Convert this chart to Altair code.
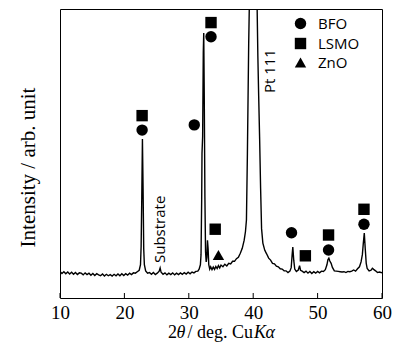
import altair as alt
import pandas as pd

# XRD pattern (2theta in degrees, intensity in arbitrary units, 0-100 = plot height)
two_theta = [10.0, 10.3, 10.6, 10.9, 11.2, 11.5, 11.8, 12.1, 12.4, 12.7, 13.0, 13.3, 13.6, 13.9, 14.2,
             14.5, 14.8, 15.1, 15.4, 15.7, 16.0, 16.3, 16.6, 16.9, 17.2, 17.5, 17.8, 18.1, 18.4, 18.7,
             19.0, 19.3, 19.6, 19.9, 20.2, 20.5, 20.8, 21.1, 21.4, 21.7, 22.0, 22.3, 22.5, 22.6, 22.7,
             22.8, 22.9, 23.0, 23.1, 23.3, 23.6, 23.9, 24.2, 24.5, 24.8, 25.1, 25.4, 25.55, 25.7, 26.0,
             26.3, 26.6, 26.9, 27.2, 27.5, 27.8, 28.1, 28.4, 28.7, 29.0, 29.3, 29.6, 29.9, 30.2, 30.5,
             30.8, 31.1, 31.4, 31.6, 31.8, 31.9, 32.0, 32.05, 32.15, 32.25, 32.32, 32.4, 32.5, 32.6, 32.7,
             32.8, 32.9, 33.0, 33.1, 33.25, 33.4, 33.6, 33.8, 34.0, 34.2, 34.4, 34.6, 34.8, 35.0, 35.3,
             35.6, 35.9, 36.2, 36.5, 36.8, 37.1, 37.4, 37.7, 38.0, 38.3, 38.6, 38.8, 38.95, 39.1, 39.3,
             39.42, 39.6, 40.0, 40.3, 40.6, 40.72, 40.85, 41.0, 41.15, 41.3, 41.5, 41.8, 42.1, 42.4, 42.7,
             43.0, 43.3, 43.6, 43.9, 44.2, 44.5, 44.8, 45.1, 45.4, 45.7, 45.9, 46.05, 46.15, 46.3, 46.45,
             46.7, 47.0, 47.2, 47.35, 47.6, 47.9, 48.2, 48.5, 48.8, 49.1, 49.4, 49.7, 50.0, 50.3, 50.6,
             50.9, 51.2, 51.45, 51.6, 51.75, 51.9, 52.1, 52.3, 52.6, 52.9, 53.2, 53.5, 53.8, 54.1, 54.4,
             54.7, 55.0, 55.3, 55.6, 55.9, 56.2, 56.5, 56.75, 56.95, 57.1, 57.25, 57.4, 57.55, 57.7, 58.0,
             58.3, 58.5, 58.7, 59.0, 59.3, 59.6, 60.0]
intensity = [9.2, 8.5, 9.1, 8.4, 9.0, 8.3, 8.9, 8.2, 8.8, 8.1, 8.7, 8.6, 8.0, 8.7, 8.1,
             8.6, 7.9, 8.5, 7.8, 8.4, 8.0, 7.7, 8.3, 7.6, 8.2, 7.7, 8.1, 7.6, 8.2, 7.7,
             8.3, 7.7, 8.4, 7.8, 8.4, 7.9, 8.6, 8.1, 8.7, 8.6, 9.1, 9.6, 11.5, 18.0, 35.0,
             55.0, 38.0, 17.0, 11.5, 9.4, 8.6, 8.8, 8.2, 8.8, 8.1, 8.6, 9.3, 10.4, 8.9, 8.2,
             8.7, 8.0, 8.6, 8.1, 8.7, 8.0, 8.6, 8.1, 8.7, 8.2, 8.8, 8.3, 8.9, 8.4, 9.0,
             8.7, 9.2, 9.3, 10.0, 11.5, 15.0, 34.0, 50.0, 56.0, 85.0, 91.7, 70.0, 35.0, 16.0, 12.5,
             14.0, 20.0, 17.0, 11.5, 10.0, 10.8, 9.8, 10.7, 9.9, 10.9, 10.2, 11.2, 10.4, 11.4, 10.8,
             11.7, 11.1, 12.0, 11.8, 12.7, 12.7, 13.6, 14.1, 15.5, 17.2, 20.0, 23.0, 27.0, 50.0, 88.0,
             104.0, 160.0, 250.0, 180.0, 102.0, 84.0, 70.0, 55.0, 38.0, 24.0, 19.0, 16.5, 15.2, 13.8, 13.1,
             12.0, 11.8, 11.0, 10.8, 10.1, 10.0, 9.4, 9.4, 8.8, 9.3, 10.5, 15.0, 17.6, 13.0, 10.0,
             9.2, 9.7, 11.2, 9.6, 9.3, 8.8, 9.3, 8.6, 9.2, 8.5, 9.1, 8.6, 9.2, 8.7, 9.3,
             9.2, 9.8, 11.5, 13.2, 13.8, 12.8, 12.0, 10.6, 9.4, 9.3, 9.2, 9.1, 9.0, 9.1, 8.8,
             9.2, 9.1, 9.3, 9.7, 9.3, 10.1, 10.8, 12.5, 15.0, 19.0, 22.5, 17.0, 12.0, 10.2, 9.4,
             9.6, 10.3, 9.9, 9.4, 8.8, 9.0, 8.7]

# Phase markers
bfo_x = [22.75, 30.85, 33.45, 45.95, 51.7, 57.2]
bfo_y = [58.1, 59.9, 90.4, 22.6, 16.6, 25.5]
lsmo_x = [22.75, 33.45, 34.1, 48.1, 51.7, 57.2]
lsmo_y = [63.1, 95.3, 23.8, 14.6, 21.8, 30.7]
zno_x = [34.6]
zno_y = [14.9]
phases = ["BFO", "LSMO", "ZnO"]

x_ticks = [10, 20, 30, 40, 50, 60]

annot_text = ["Substrate", "Pt 111"]
annot_x = [25.5, 42.6]
annot_y = [12.1, 70.9]

spec_df = pd.DataFrame({"x": two_theta, "y": intensity})
marker_df = pd.concat([
    pd.DataFrame({"x": bfo_x, "y": bfo_y, "phase": "BFO"}),
    pd.DataFrame({"x": lsmo_x, "y": lsmo_y, "phase": "LSMO"}),
    pd.DataFrame({"x": zno_x, "y": zno_y, "phase": "ZnO"}),
], ignore_index=True)
tick_df = pd.DataFrame({"x": x_ticks})
annot_df = pd.DataFrame({"x": annot_x, "y": annot_y, "label": annot_text})

W, H = 322, 289
SERIF = "Liberation Serif"
SANS = "Open Sans"

xscale = alt.Scale(domain=[10, 60], nice=False, zero=False)
yscale = alt.Scale(domain=[0, 100], nice=False, zero=False)

X = alt.X("x:Q", scale=xscale, axis=alt.Axis(
    values=x_ticks, ticks=False, domain=False, grid=False, title=None,
    labelFont=SERIF, labelFontSize=19, labelColor="black", labelPadding=5,
    labelFlush=False))
Y = alt.Y("y:Q", scale=yscale, axis=alt.Axis(
    labels=False, ticks=False, domain=False, grid=False,
    title="Intensity / arb. unit", titleFont=SERIF, titleFontSize=21,
    titleFontWeight="normal", titleColor="black", titlePadding=22, titleY=158))

line = alt.Chart(spec_df).mark_line(color="black", strokeWidth=1.4, clip=True).encode(x=X, y=Y)

points = alt.Chart(marker_df).mark_point(filled=True, color="black", opacity=1, size=130).encode(
    x=X, y=Y,
    shape=alt.Shape("phase:N",
                    scale=alt.Scale(domain=phases, range=["circle", "square", "triangle-up"]),
                    legend=alt.Legend(orient="none", legendX=233, legendY=7, title=None,
                                      labelFont=SANS, labelFontSize=15, labelColor="black",
                                      symbolFillColor="black", symbolStrokeColor="black",
                                      symbolOpacity=1, symbolSize=130, rowPadding=1,
                                      labelOffset=10, padding=0)))

ticks = alt.Chart(tick_df).mark_rule(color="black", strokeWidth=1).encode(
    x=X, y=alt.value(H - 5), y2=alt.value(H))

annots = alt.Chart(annot_df).mark_text(angle=270, align="left", baseline="middle",
                                       font=SANS, fontSize=15, color="black").encode(
    x=X, y=Y, text="label:N")

one = pd.DataFrame({"a": [0]})
ty = 329
segs = [
    ("2", 108, "normal"),
    ("\u03b8", 116.5, "italic"),
    ("/ deg. Cu", 127.5, "normal"),
    ("K", 194, "italic"),
    ("\u03b1", 205.5, "italic"),
]
title_layers = [
    alt.Chart(one).mark_text(text=t, align="left", baseline="alphabetic", font=SERIF,
                             fontSize=18, fontStyle=st, color="black").encode(
        x=alt.value(px), y=alt.value(ty))
    for t, px, st in segs
]

chart = alt.layer(line, ticks, annots, points, *title_layers).properties(
    width=W, height=H,
    autosize=alt.AutoSizeParams(type="none"),
    padding={"left": 52, "top": 1, "right": 18, "bottom": 45},
).configure_view(stroke="black", strokeWidth=1)

chart.save("out.html", embed_options={"renderer": "svg", "actions": False})
